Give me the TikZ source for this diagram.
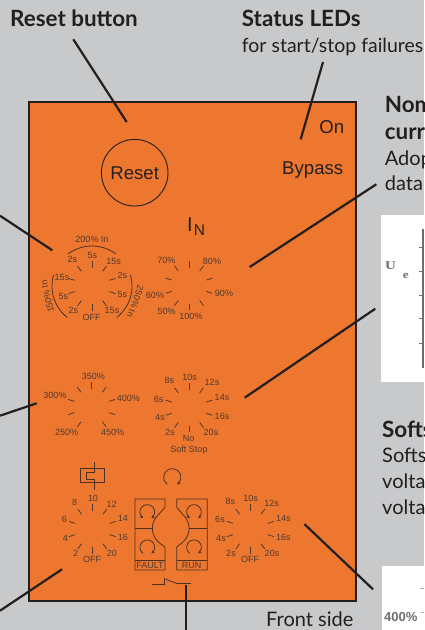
\documentclass[tikz,border=0pt]{standalone}
\usepackage{fontspec}
\setmainfont{Liberation Sans}
\newfontfamily\gill{Lato}
\newfontfamily\photoserif{Liberation Serif}
\usetikzlibrary{arrows.meta}
\definecolor{bggray}{HTML}{C8C9CB}
\definecolor{panelorange}{HTML}{EE7730}
\definecolor{ink}{HTML}{231F20}
\definecolor{dialink}{HTML}{4F3A2C}
\definecolor{photogray}{HTML}{6E6E6E}
\tikzset{
  x=1pt,y=-1pt,
  leader/.style={draw=ink,line width=2.2pt},
  tickline/.style={draw=dialink,line width=0.8pt},
  thinline/.style={draw=ink!80!panelorange,line width=0.8pt},
  diallabel/.style={inner sep=0pt,text=dialink,font=\fontsize{9}{9}\selectfont},
  panellabel/.style={inner sep=0pt,text=ink,font=\fontsize{18.6}{18.6}\selectfont},
  titlebold/.style={anchor=base west,inner sep=0pt,text=ink,font=\gill\bfseries\fontsize{22.4}{22.4}\selectfont},
  titleplain/.style={anchor=base west,inner sep=0pt,text=ink,font=\gill\fontsize{20}{20}\selectfont},
  titlefit/.style={anchor=base west,inner sep=0pt,text=ink,font=\gill\fontsize{19.5}{19.5}\selectfont},
  rotarrow/.style={thinline,-{Stealth[length=3.2pt,width=3.2pt]}},
  rotboth/.style={thinline,{Stealth[length=3.2pt,width=3.2pt]}-{Stealth[length=3.2pt,width=3.2pt]}},
}
% arc as screen angles: centre x, centre y, radius, from, to
\newcommand{\arcpts}[5]{plot[smooth,domain=#4:#5,samples=40,variable=\t] ({#1+#3*cos(\t)},{#2-#3*sin(\t)})}
% ticks of a dial: centre x, centre y, list of angles
\newcommand{\dialticks}[3]{\foreach \a in {#3}{\draw[tickline] ({#1+18.2*cos(\a)},{#2-18.2*sin(\a)}) -- ({#1+24.6*cos(\a)},{#2-24.6*sin(\a)});}}
\newcommand{\diallabels}[2]{\foreach \tx/\px/\py [count=\n] in {#2}{\node[diallabel] (#1-\n) at (\px,\py) {\tx};}}
\begin{document}
\begin{tikzpicture}
\useasboundingbox (0,0) rectangle (424,630);
\clip (0,0) rectangle (424,630);
\fill[bggray] (0,0) rectangle (424,630);

% photographs at the right edge
\fill[white] (381,215) rectangle (424,382);
\draw[photogray,line width=2pt] (422.5,229) -- (422.5,368);
\foreach \yy in {247.7,271,295,318,343}{\draw[photogray,line width=1pt] (419,\yy) -- (424,\yy);}
\node[inner sep=0pt,text=photogray,font=\photoserif\bfseries\fontsize{12}{12}\selectfont,xscale=1.25] (ulabel) at (390.5,265.5) {U};
\node[inner sep=0pt,text=photogray,font=\photoserif\bfseries\fontsize{11}{11}\selectfont,xscale=1.2] (elabel) at (405.7,275.5) {e};
\fill[white] (382,566) rectangle (424,630);
\draw[gray!60,line width=1pt] (420,588.5) -- (424,588.5);
\draw[gray!60,line width=1pt] (421,612) -- (424,612);
\node[inner sep=0pt,text=photogray,font=\fontsize{13}{13}\selectfont\bfseries] (pct) at (400.7,616.7) {400\%};

% panel
\node[draw=ink,fill=panelorange,line width=2.3pt,inner sep=0pt,minimum width=326.6pt,minimum height=499.3pt,anchor=north west] (panel) at (28,100.7) {};

% titles
\node[titlebold] (t1) at (10,26.7) {Reset button};
\node[titlebold] (t2) at (241.7,26.7) {Status LEDs};
\node[titlefit] (t3) at (241.7,52.7) {for start/stop failures};
\node[titlebold] (t4) at (384.7,112.7) {Nom};
\node[titlebold] (t5) at (384.7,139.3) {curr};
\node[titleplain] (t6) at (384.7,165) {Adop};
\node[titleplain] (t7) at (384.7,190) {data};
\node[titlebold] (t8) at (382,437.3) {Softs};
\node[titleplain] (t9) at (382,462.7) {Softs};
\node[titleplain] (t10) at (382,488.3) {voltag};
\node[titleplain] (t11) at (382,514) {voltag};
\node[titleplain] (t12) at (266,626) {Front side};

% reset, LEDs
\node[draw=ink,line width=0.9pt,circle,minimum size=66.6pt,inner sep=0pt,panellabel] (reset) at (134.7,172.7) {Reset};
\node[panellabel] (on) at (331.7,127.3) {On};
\node[panellabel] (bypass) at (312.7,170) {Bypass};
\node[inner sep=0pt,text=ink,font=\fontsize{20}{20}\selectfont] (inI) at (190,225) {I};
\node[inner sep=0pt,text=ink,font=\fontsize{15.5}{15.5}\selectfont] (inN) at (199.5,230) {N};

% dial 1
\dialticks{92}{286}{90,54,18,-18,-54,-90,-126,-162,162,126}
\diallabels{a}{200\% In/92/239.3,5s/92.3/255.7,15s/113.7/261.7,2s/122.3/275.3,5s/122.3/294.7,15s/112/310.7,OFF/91.7/317.3,2s/73.3/310.7,5s/63.3/296.7,15s/62/277.7,2s/72.3/259.7}
\draw[thinline] \arcpts{92}{286}{40}{53.4}{126.6};
\draw[thinline] \arcpts{92}{286}{40}{164}{232};
\draw[thinline] \arcpts{92}{286}{40}{16}{-52};
\node[diallabel,rotate=103] (a150) at (47.5,296.5) {150\% In};
\node[diallabel,rotate=-110] (a250) at (135.5,301.5) {250\% In};

% dial 2
\dialticks{189}{285.7}{90,54,18,-18,-54,-90,-126,-162,162,126}
\diallabels{b}{70\%/166.3/260.7,80\%/212/261,90\%/224/293.3,60\%/155/295.3,50\%/166.7/311.7,100\%/191/316.7}

% dial 3
\dialticks{91.7}{407}{90,54,18,-18,-54,-126,-162,162,126}
\diallabels{c}{350\%/93.3/376.7,300\%/55/395.7,400\%/128.3/398.7,250\%/66.7/432.7,450\%/112.7/432.7}

% dial 4
\dialticks{189}{407.7}{90,54,18,-18,-54,-90,-126,-162,162,126}
\diallabels{d}{10s/189.7/377.7,8s/169.3/380.7,12s/212/382,14s/222/397.3,16s/222/416.7,20s/211/432.7,6s/158.7/399.7,4s/160/417.7,2s/170/432.7,No/188.7/438.7,Soft Stop/189/449.7}

% relay symbol
\draw[thinline] (80,468.3) rectangle (104.3,482.3);
\draw[thinline] (94,461.7) -- (94,472) -- (86.7,472) -- (86.7,479.3) -- (94,479.3) -- (94,490);

% dial 5
\dialticks{92.3}{529}{90,54,18,-18,-54,-90,-126,-162,162,126}
\diallabels{e}{10/93/498.7,8/74.7/502.7,12/111.7/504.3,14/123/518.7,16/123/537.3,20/112/553.7,OFF/92/559.7,2/75.7/553.7,4/65.3/538.3,6/64.3/519.3}

% dial 6
\dialticks{250.3}{529}{90,54,18,-18,-54,-90,-126,-162,162,126}
\diallabels{f}{10s/250.7/498.7,8s/230.3/501.7,12s/271.7/503.7,14s/283.3/518.7,16s/283.3/537.7,20s/272/553.7,OFF/250/559.7,2s/231/553.7,4s/221/538.7,6s/220/519.7}

% fault / run block
\draw[thinline] (165,507.3) -- (165,499) -- (135,499) -- (135,570) -- (165,570) -- (165,547) -- (159,542.6);
\draw[thinline] (165,507.3) -- (159,514);
\draw[thinline] \arcpts{170.7}{528.3}{18.3}{129}{231};
\draw[thinline] (176.7,507.3) -- (176.7,499) -- (207.3,499) -- (207.3,570) -- (176.7,570) -- (176.7,547) -- (182.4,542.6);
\draw[thinline] (176.7,507.3) -- (182.4,514);
\draw[thinline] \arcpts{170.7}{528.3}{18.3}{51}{-51};
\draw[thinline] (135,528.3) -- (152.4,528.3);
\draw[thinline] (189,528.3) -- (207.3,528.3);
\draw[thinline] (135,560) -- (165,560);
\draw[thinline] (176.7,560) -- (207.3,560);
\node[diallabel] (fault) at (150,565.3) {FAULT};
\node[diallabel] (run) at (191.7,565.3) {RUN};
\draw[rotarrow] \arcpts{172.3}{477.3}{8.5}{235}{-55};
\draw[rotboth] \arcpts{147.3}{512}{7.3}{235}{-55};
\draw[rotboth] \arcpts{194}{512}{7.3}{235}{-55};
\draw[rotarrow] \arcpts{147.3}{547.3}{7.3}{235}{-55};
\draw[rotarrow] \arcpts{194}{547.3}{7.3}{235}{-55};

% switch
\draw[thinline] (152.3,584) -- (164.3,584) -- (164.3,577.5);
\draw[thinline] (165.7,579.3) -- (178.3,584);
\draw[thinline] (177,583.5) -- (191.3,583.5);

% leaders
\coordinate (r0) at (73.3,39.3); \coordinate (r1) at (126.7,122);
\coordinate (s0) at (323,62); \coordinate (s1) at (300.7,139.3);
\coordinate (n0) at (376.3,184.3); \coordinate (n1) at (249.7,267);
\coordinate (m0) at (375.3,308.7); \coordinate (m1) at (244.7,397.7);
\coordinate (k0) at (304.3,524); \coordinate (k1) at (373,589.3);
\coordinate (l0) at (0,215.7); \coordinate (l1) at (52.3,250.3);
\coordinate (p0) at (0,415.7); \coordinate (p1) at (36.7,403.3);
\coordinate (q0) at (0,610.7); \coordinate (q1) at (62,569.3);
\coordinate (u0) at (185.7,585); \coordinate (u1) at (185.7,630);
\foreach \aa/\bb in {r0/r1,s0/s1,n0/n1,m0/m1,k0/k1,l0/l1,p0/p1,q0/q1,u0/u1}{\draw[leader] (\aa) -- (\bb);}
\end{tikzpicture}
\end{document}
